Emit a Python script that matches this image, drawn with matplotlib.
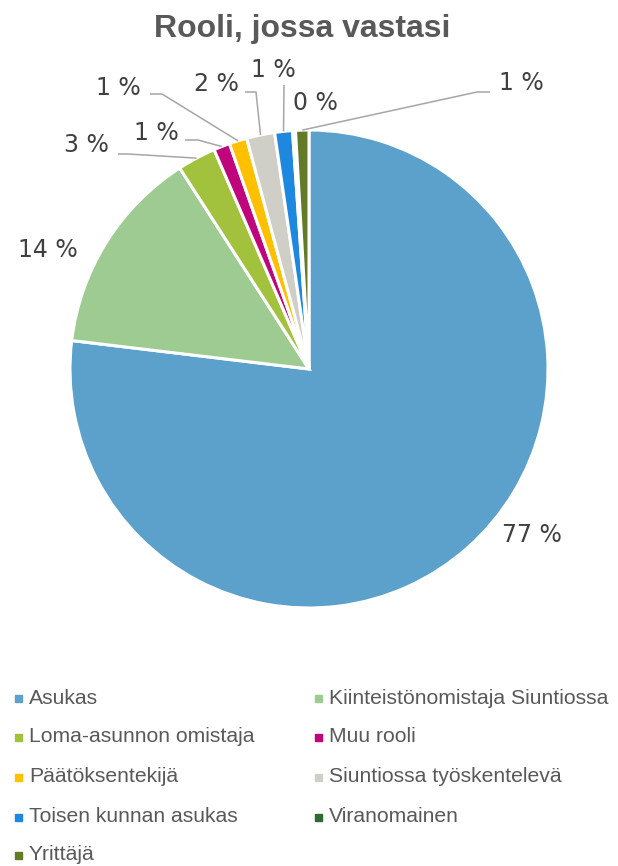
import numpy as np
import matplotlib.pyplot as plt

# data
roles = ['Asukas', 'Kiinteistönomistaja Siuntiossa', 'Loma-asunnon omistaja',
         'Muu rooli', 'Päätöksentekijä', 'Siuntiossa työskentelevä',
         'Toisen kunnan asukas', 'Viranomainen', 'Yrittäjä']
shares = [76.9, 14.0, 2.6, 1.1, 1.2, 1.9, 1.2, 0.2, 0.9]
colors = ['#5BA1CB', '#9DCB92', '#A2C13D', '#C0047C', '#FFC000',
          '#D0CFC7', '#1E88E0', '#2F6A31', '#637A28']

W, H = 618, 866
fig = plt.figure(figsize=(W / 100, H / 100), dpi=100)

# pie geometry in pixels
cx, cy, R = 309, 369, 239
ax = fig.add_axes([(cx - R) / W, (H - cy - R) / H, 2 * R / W, 2 * R / H])
wedges, _ = ax.pie(shares, colors=colors, startangle=90, counterclock=False,
                   radius=1.0, wedgeprops=dict(edgecolor='white', linewidth=2.2))
ax.set_xlim(-1, 1)
ax.set_ylim(-1, 1)
ax.set_aspect('equal')
ax.axis('off')


def px2d(px, py):
    return (px - cx) / R, (cy - py) / R


# label layout: text centre and optional leader start/elbow (pixels)
text_pos = [(532, 535), (48, 250), (86, 145), (156, 133), (118, 88),
            (216, 84), (273, 70), (315, 103), (521, 83)]
leaders = [None, None,
           [(118, 154), (128, 154)],
           [(185, 140), (198, 140)],
           [(150, 94), (162, 94)],
           [(245, 92), (256, 92)],
           [(284, 85), (284, 85)],
           None,
           [(490, 92), (477, 92)]]

cum = np.cumsum([0] + shares)
tot = cum[-1]
for i, w in enumerate(wedges):
    mid = (cum[i] + cum[i + 1]) / 2 / tot * 2 * np.pi
    # clockwise from 12 o'clock
    rim_x, rim_y = -np.sin(mid), np.cos(mid)
    tx, ty = px2d(*text_pos[i])
    ax.text(tx, ty, f'{shares[i]:.0f} %', ha='center', va='center',
            fontsize=17, color='#404040', family='DejaVu Sans')
    if leaders[i] is not None:
        (sx, sy), (ex, ey) = [px2d(*p) for p in leaders[i]]
        ax.plot([sx, ex, -rim_x], [sy, ey, rim_y], color='#A6A6A6', lw=1.1,
                clip_on=False, solid_capstyle='butt')

fig.text(302 / W, 1 - 37 / H, 'Rooli, jossa vastasi', ha='center',
         va='baseline', fontsize=23, fontweight='bold', color='#595959',
         family='Liberation Sans')

# legend, row-major in two columns
col_x = [18, 318]
row_y = [698, 737, 777, 817, 855]
for i, name in enumerate(roles):
    mx, my = col_x[i % 2], row_y[i // 2]
    fig.patches.append(plt.Rectangle(((mx - 3.5) / W, 1 - (my + 3.5) / H),
                                     7 / W, 7 / H, color=colors[i],
                                     transform=fig.transFigure, figure=fig))
    fig.text((mx + 11) / W, 1 - my / H, name, ha='left', va='center',
             fontsize=15.2, color='#595959', family='Liberation Sans')

fig.savefig('out.png', dpi=100)
